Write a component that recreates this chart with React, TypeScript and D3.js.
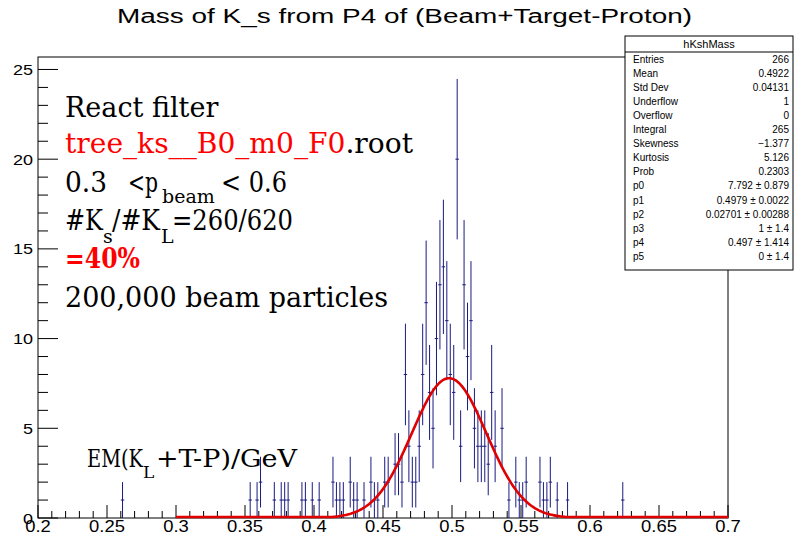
import React from "react";
import * as d3 from "d3";

// ---- data ----
const binWidth = 0.0025;
const binCenters = [
  0.26125, 0.35375, 0.35875, 0.36125, 0.37125, 0.37625, 0.37875, 0.38125,
  0.39125, 0.39375, 0.39875, 0.40375, 0.41375, 0.41625, 0.41875, 0.42125,
  0.42625, 0.42875, 0.43125, 0.43625, 0.44125, 0.44375, 0.44625, 0.45125,
  0.45375, 0.45875, 0.46125, 0.46375, 0.46625, 0.46875, 0.47125, 0.47375,
  0.47625, 0.47875, 0.48125, 0.48375, 0.48625, 0.48875, 0.49125, 0.49375,
  0.49625, 0.49875, 0.50125, 0.50375, 0.50625, 0.50875, 0.51125, 0.51375,
  0.51625, 0.51875, 0.52125, 0.52375, 0.52625, 0.52875, 0.53125, 0.53625,
  0.54125, 0.54625, 0.54875, 0.55125, 0.55375, 0.56375, 0.56625, 0.56875,
  0.57125, 0.57625, 0.58375, 0.62375,
];
const binCounts = [
  1, 1, 1, 2, 1, 1, 1, 1,
  1, 1, 1, 1, 2, 1, 1, 1,
  2, 1, 1, 1, 2, 1, 1, 2,
  2, 3, 3, 2, 8, 4, 2, 2,
  4, 8, 12, 7, 5, 10, 13, 14,
  11, 8, 7, 20, 4, 13, 9, 11,
  5, 4, 4, 4, 3, 7, 4, 5,
  1, 2, 1, 1, 2, 2, 1, 1,
  2, 1, 1, 1,
];

const fitP0 = 7.792;
const fitP1 = 0.4979;
const fitP2 = 0.02701;
const fitRange = [0.3, 0.7];

const xDomain = [0.2, 0.7];
const xMajorTicks = [0.2, 0.25, 0.3, 0.35, 0.4, 0.45, 0.5, 0.55, 0.6, 0.65, 0.7];
const xTickLabels = ["0.2", "0.25", "0.3", "0.35", "0.4", "0.45", "0.5", "0.55", "0.6", "0.65", "0.7"];
const yMajorTicks = [0, 5, 10, 15, 20, 25];
const yTickLabels = ["0", "5", "10", "15", "20", "25"];

const titleText = "Mass of K_s from P4 of (Beam+Target-Proton)";
const statName = "hKshMass";
const statLabels = ["Entries", "Mean", "Std Dev", "Underflow", "Overflow", "Integral", "Skewness", "Kurtosis", "Prob", "p0", "p1", "p2", "p3", "p4", "p5"];
const statValues = ["266", "0.4922", "0.04131", "1", "0", "265", "\u22121.377", "5.126", "0.2303", "7.792 \u00b1 0.879", "0.4979 \u00b1 0.0022", "0.02701 \u00b1 0.00288", "1 \u00b1 1.4", "0.497 \u00b1 1.414", "0 \u00b1 1.4"];

// ---- layout ----
const W = 798, H = 535;
const frame = { left: 38, right: 728, top: 57, bottom: 518 };
const barColor = "#1a1a80";
const serif = "'DejaVu Serif', serif";
const sans = "'Liberation Sans', Arial, sans-serif";

function SText(props: { x: number; y: number; size: number; sx: number; anchor?: string; children: React.ReactNode }) {
  return (
    <text
      transform={`translate(${props.x},${props.y}) scale(${props.sx},1)`}
      textAnchor={props.anchor || "start"}
      fontFamily={sans}
      fontSize={props.size}
      fill="#000"
    >
      {props.children}
    </text>
  );
}

export default function App() {
  const ymax = 1.05 * d3.max(binCounts.map((n) => n + Math.sqrt(n)))!;
  const x = d3.scaleLinear().domain(xDomain).range([frame.left, frame.right]);
  const y = d3.scaleLinear().domain([0, ymax]).range([frame.bottom, frame.top]);

  const xMinor = d3.range(0, 51).map((i) => 0.2 + i * 0.01);
  const yMinor = d3.range(0, 26);

  const fitPts = d3.range(fitRange[0], fitRange[1] + 1e-9, 0.001).map((v) => [v, fitP0 * Math.exp(-0.5 * ((v - fitP1) / fitP2) ** 2)] as [number, number]);
  const line = d3.line<[number, number]>().x((d) => x(d[0])).y((d) => Math.min(y(d[1]), frame.bottom - 1));

  const statRowH = 14.05;
  const box = { left: 625, right: 793, top: 36, header: 52, bottom: 270 };

  return (
    <svg width={W} height={H} style={{ position: "absolute", left: 0, top: 0, background: "#fff" }}>
      <rect x={0} y={0} width={W} height={H} fill="#fff" />
      {/* title */}
      <text x={117} y={23} fontFamily={sans} fontSize={20} textLength={575} lengthAdjust="spacingAndGlyphs" fill="#000">{titleText}</text>

      {/* frame */}
      <rect x={frame.left} y={frame.top} width={frame.right - frame.left} height={frame.bottom - frame.top} fill="none" stroke="#000" strokeWidth={1} />

      {/* x ticks */}
      {xMinor.map((v, i) => {
        const major = i % 5 === 0;
        return <line key={"xm" + i} x1={x(v)} x2={x(v)} y1={frame.bottom} y2={frame.bottom - (major ? 13 : 7)} stroke="#000" strokeWidth={1} />;
      })}
      {xMajorTicks.map((v, i) => (
        <SText key={"xl" + i} x={x(v)} y={532} size={16} sx={1.15} anchor="middle">{xTickLabels[i]}</SText>
      ))}

      {/* y ticks */}
      {yMinor.map((v) => {
        const major = v % 5 === 0;
        return <line key={"ym" + v} x1={frame.left} x2={frame.left + (major ? 20 : 10)} y1={y(v)} y2={y(v)} stroke="#000" strokeWidth={1} />;
      })}
      {yMajorTicks.map((v, i) => (
        <SText key={"yl" + i} x={33} y={y(v) + 5.5} size={15} sx={1.2} anchor="end">{yTickLabels[i]}</SText>
      ))}

      {/* histogram error bars */}
      {binCenters.map((c, i) => {
        const n = binCounts[i];
        const e = Math.sqrt(n);
        return (
          <g key={"b" + i} stroke={barColor} strokeWidth={1}>
            <line x1={x(c)} x2={x(c)} y1={y(n - e)} y2={y(n + e)} />
            <line x1={x(c - binWidth / 2)} x2={x(c + binWidth / 2)} y1={y(n)} y2={y(n)} />
          </g>
        );
      })}

      {/* fit */}
      <path d={line(fitPts)!} fill="none" stroke="#e00000" strokeWidth={2.6} />

      {/* annotations */}
      <g fontFamily={serif} fill="#000">
        <text x={65} y={117} fontSize={27}>React filter</text>
        <text x={65} y={153} fontSize={27} textLength={348} lengthAdjust="spacingAndGlyphs">
          <tspan fill="#ff0000">tree_ks__B0_m0_F0</tspan>.root
        </text>
        <text x={65} y={192} fontSize={27} textLength={42} lengthAdjust="spacingAndGlyphs">0.3</text>
        <text x={128} y={192} fontSize={27} textLength={30} lengthAdjust="spacingAndGlyphs">&lt;p</text>
        <text x={162} y={203} fontSize={19}>beam</text>
        <text x={221} y={192} fontSize={27} textLength={66} lengthAdjust="spacingAndGlyphs">&lt; 0.6</text>

        <text x={65} y={230} fontSize={27} textLength={38} lengthAdjust="spacingAndGlyphs">#K</text>
        <text x={103} y={243} fontSize={19}>s</text>
        <text x={112} y={230} fontSize={27} textLength={48} lengthAdjust="spacingAndGlyphs">/#K</text>
        <text x={161} y={243} fontSize={19}>L</text>
        <text x={172} y={230} fontSize={27} textLength={121} lengthAdjust="spacingAndGlyphs">=260/620</text>

        <text x={65} y={268} fontSize={27} fontWeight="bold" fill="#ff0000" textLength={75} lengthAdjust="spacingAndGlyphs">=40%</text>
        <text x={65} y={307} fontSize={27}>200,000 beam particles</text>

        <text x={87} y={467} fontSize={24} textLength={56} lengthAdjust="spacingAndGlyphs">EM(K</text>
        <text x={143} y={478} fontSize={17}>L</text>
        <text x={156} y={467} fontSize={24} textLength={141} lengthAdjust="spacingAndGlyphs">+T-P)/GeV</text>
      </g>

      {/* stats box */}
      <g>
        <rect x={box.left} y={box.top} width={box.right - box.left} height={box.bottom - box.top} fill="#fff" stroke="#000" strokeWidth={1} />
        <line x1={box.left} x2={box.right} y1={box.header} y2={box.header} stroke="#000" strokeWidth={1} />
        <text x={(box.left + box.right) / 2} y={48} textAnchor="middle" fontFamily={sans} fontSize={11} fill="#000">{statName}</text>
        {statLabels.map((l, i) => (
          <g key={"s" + i} fontFamily={sans} fontSize={10} fill="#000">
            <text x={633} y={63 + i * statRowH}>{l}</text>
            <text x={789} y={63 + i * statRowH} textAnchor="end">{statValues[i]}</text>
          </g>
        ))}
      </g>
    </svg>
  );
}
